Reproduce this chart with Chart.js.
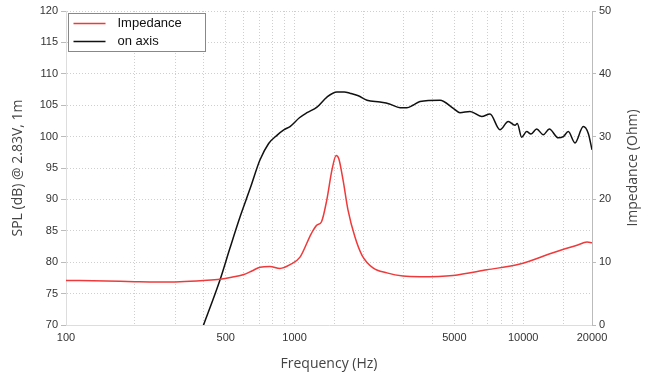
<!DOCTYPE html>
<html>
<head>
<meta charset="utf-8">
<script src="https://cdn.jsdelivr.net/npm/chart.js@4.4.0/dist/chart.umd.min.js"></script>
<style>
  html, body { margin: 0; padding: 0; background: #fff; }
  #wrap { width: 650px; height: 372px; }
</style>
</head>
<body>
<div id="wrap"><canvas id="c" width="650" height="372"></canvas></div>
<script>
// ---- data ----
const impFreq = [100, 150, 200, 250, 315, 400, 472, 530, 595, 650, 706, 780, 863, 955,
  1056, 1185, 1252, 1310, 1383, 1457, 1520, 1560, 1629, 1713, 1837, 1972, 2203, 2535,
  2979, 3537, 4932, 6946, 9683, 13500, 17190, 19020, 20000];
const impOhm = [7.1, 7.0, 6.9, 6.85, 6.9, 7.1, 7.3, 7.6, 8.0, 8.6, 9.2, 9.3, 9.0, 9.6,
  10.8, 14.6, 15.9, 16.4, 19.9, 24.7, 27.0, 26.5, 23.1, 18.3, 14.0, 11.1, 9.1, 8.3,
  7.8, 7.7, 7.9, 8.8, 9.7, 11.5, 12.7, 13.2, 13.1];

const splFreq = [395, 472, 520, 577, 640, 706, 770, 837, 900, 955, 1050, 1133, 1253,
  1386, 1532, 1650, 1746, 1900, 2074, 2364, 2600, 2893, 3100, 3296, 3537, 4327, 4947,
  5291, 5852, 6584, 7158, 7915, 8605, 9207, 9423, 9849, 10359, 10817, 11455, 12246,
  13011, 14244, 14978, 15752, 16850, 18320, 19267, 20000];
const splDb = [69.5, 77.2, 82.1, 87.2, 91.8, 96.3, 98.9, 100.2, 101.1, 101.6, 103.0,
  103.8, 104.7, 106.3, 107.1, 107.1, 106.9, 106.5, 105.8, 105.5, 105.2, 104.6, 104.6,
  105.0, 105.6, 105.8, 104.5, 103.8, 104.0, 103.2, 103.6, 101.1, 102.4, 101.8, 102.1,
  99.9, 100.8, 100.4, 101.2, 100.3, 101.2, 99.8, 100.0, 100.8, 99.0, 101.6, 100.5, 97.9];

const xLabels = [100, 500, 1000, 5000, 10000, 20000];
const seriesNames = ["Impedance", "on axis"];
const seriesColors = ["#ee3a3a", "#111111"];
const rightTitle = "Impedance (Ohm)";

const tickFont = { family: "'Liberation Sans', Arial, sans-serif", size: 11 };
const titleFont = { family: "'Open Sans', sans-serif", size: 14 };

// legend inside the plot (top-left, framed) + right axis title read bottom-to-top
const extras = {
  id: "extras",
  afterDraw(chart) {
    const ctx = chart.ctx;
    const a = chart.chartArea;
    const x = a.left + 2.5, y = a.top + 2.5;
    ctx.save();
    ctx.fillStyle = "#fff";
    ctx.strokeStyle = "#888";
    ctx.lineWidth = 1;
    ctx.fillRect(x, y, 137, 38);
    ctx.strokeRect(x, y, 137, 38);
    ctx.font = "13px 'Liberation Sans', Arial, sans-serif";
    ctx.textBaseline = "middle";
    chart.data.datasets.forEach((ds, i) => {
      const ly = y + 10 + i * 18;
      ctx.strokeStyle = ds.borderColor;
      ctx.lineWidth = 1.5;
      ctx.beginPath();
      ctx.moveTo(x + 5, ly);
      ctx.lineTo(x + 37, ly);
      ctx.stroke();
      ctx.fillStyle = "#111";
      ctx.fillText(ds.label, x + 49, ly);
    });

    ctx.translate(633, (a.top + a.bottom) / 2);
    ctx.rotate(-Math.PI / 2);
    ctx.font = "14px 'Open Sans', sans-serif";
    ctx.fillStyle = "#444";
    ctx.textAlign = "center";
    ctx.fillText(rightTitle, 0, 0);
    ctx.restore();
  }
};

new Chart(document.getElementById("c"), {
  type: "line",
  data: {
    datasets: [
      {
        label: seriesNames[0],
        data: impFreq.map((f, i) => ({ x: f, y: impOhm[i] })),
        borderColor: seriesColors[0],
        borderWidth: 1.5,
        pointRadius: 0,
        cubicInterpolationMode: "monotone",
        yAxisID: "y2",
      },
      {
        label: seriesNames[1],
        data: splFreq.map((f, i) => ({ x: f, y: splDb[i] })),
        borderColor: seriesColors[1],
        borderWidth: 1.5,
        pointRadius: 0,
        cubicInterpolationMode: "monotone",
        yAxisID: "y",
      }
    ]
  },
  options: {
    responsive: false,
    animation: false,
    layout: { padding: { top: 11, left: 0, right: 0, bottom: 0 } },
    plugins: { legend: { display: false }, tooltip: { enabled: false } },
    scales: {
      x: {
        type: "logarithmic",
        min: 100,
        max: 20000,
        afterFit: s => { s.height = 47; },
        ticks: {
          autoSkip: false,
          maxRotation: 0,
          font: tickFont,
          color: "#333",
          padding: 6,
          callback: v => xLabels.includes(v) ? String(v) : "",
        },
        grid: { color: "#cfcfcf", drawTicks: false },
        border: { display: true, color: "#ddd", dash: [1, 2] },
        title: { display: true, text: "Frequency (Hz)", font: titleFont, color: "#444", padding: { top: 8, bottom: 0 } },
      },
      y: {
        position: "left",
        min: 70,
        max: 120,
        afterFit: s => { s.width = 66; },
        ticks: { stepSize: 5, font: tickFont, color: "#333", padding: 3 },
        grid: { color: "#cfcfcf", tickLength: 5, tickColor: "#bbb" },
        border: { display: true, color: "#ddd", dash: [1, 2] },
        title: { display: true, text: "SPL (dB) @ 2.83V, 1m", font: titleFont, color: "#444", padding: { top: 10, bottom: 0 } },
      },
      y2: {
        position: "right",
        min: 0,
        max: 50,
        afterFit: s => { s.width = 58; },
        ticks: { stepSize: 10, font: tickFont, color: "#333", padding: 3 },
        grid: { drawOnChartArea: false, tickLength: 4, tickColor: "#bbb" },
        border: { display: true, color: "#bbb" },
        title: { display: false },
      }
    }
  },
  plugins: [extras]
});
</script>
</body>
</html>
